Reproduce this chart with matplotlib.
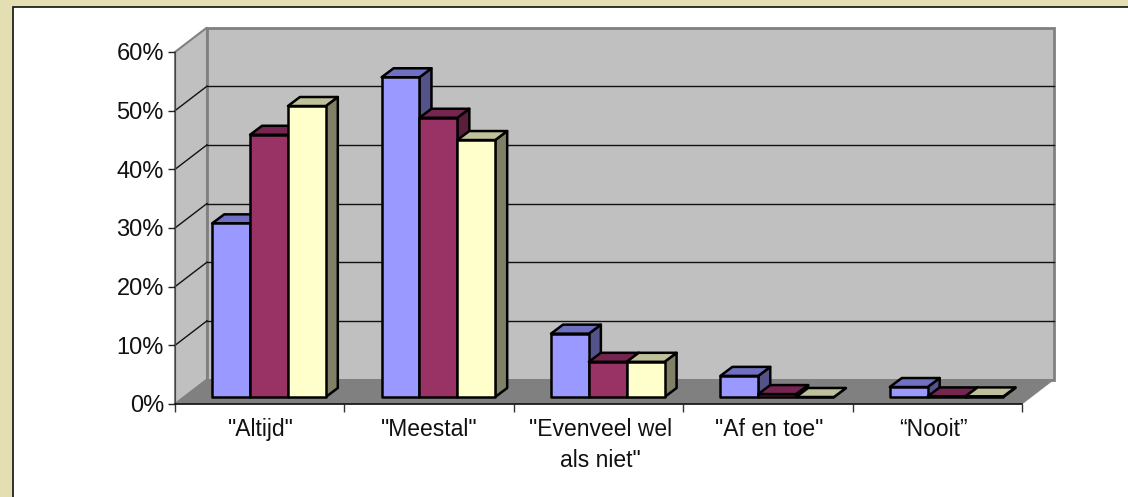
import matplotlib
matplotlib.use("Agg")
import matplotlib.pyplot as plt
from matplotlib.patches import Polygon, Rectangle
from matplotlib.transforms import Affine2D, IdentityTransform

categories = ['"Altijd"', '"Meestal"', '"Evenveel wel\nals niet"', '"Af en toe"', '\u201cNooit\u201d']
series_a = [29.6, 54.5, 10.8, 3.6, 1.7]
series_b = [44.7, 47.6, 6, 0.5, 0.1]
series_c = [49.6, 43.8, 6, 0, 0.1]
y_ticks = [0, 10, 20, 30, 40, 50, 60]

W, H = 1128, 497
plt.rcParams['font.family'] = ['Liberation Sans', 'DejaVu Sans']
fig = plt.figure(figsize=(W / 100, H / 100), dpi=100, facecolor='#E3DFB3')

# white panel with a black edge on the top and left, running off the right and bottom
fig.add_artist(Rectangle((12.5 / W, -0.1), 1.1, (H - 6.5) / H + 0.1, transform=fig.transFigure,
                         facecolor='white', edgecolor='#111111', linewidth=1.2, zorder=-5))

ax = fig.add_axes([175 / W, 1 - 404 / H, (1022 - 175) / W, (404 - 52) / H])
ax.set_xlim(0, 5)
ax.set_ylim(0, 60)
ax.patch.set_visible(False)
for s in ('top', 'right'):
    ax.spines[s].set_visible(False)
ax.spines['left'].set_color('#444444')
ax.spines['bottom'].set_color('#111111')
ax.spines['bottom'].set_linewidth(1.2)
ax.spines['left'].set_zorder(20)
ax.spines['bottom'].set_zorder(20)

PX = IdentityTransform()


def tr(dx, dy):
    return ax.transData + Affine2D().translate(dx, dy)


BACK = (32, 24.5)

# walls and floor
wall = '#C0C0C0'
wall_edge = '#808080'
ax.add_patch(Polygon([(0, 0), (5, 0), (5, 60), (0, 60)], closed=True, transform=tr(*BACK),
                     facecolor=wall, edgecolor=wall_edge, linewidth=2, clip_on=False, zorder=1))
p0 = ax.transData.transform((0, 0))
p1 = ax.transData.transform((0, 60))
ax.add_patch(Polygon([p0, p1, (p1[0] + BACK[0], p1[1] + BACK[1]), (p0[0] + BACK[0], p0[1] + BACK[1])],
                     closed=True, transform=PX, facecolor=wall, edgecolor=wall_edge,
                     linewidth=1.5, clip_on=False, zorder=1))
q1 = ax.transData.transform((5, 0))
ax.add_patch(Polygon([p0, q1, (q1[0] + BACK[0], q1[1] + BACK[1]), (p0[0] + BACK[0], p0[1] + BACK[1])],
                     closed=True, transform=PX, facecolor='#808080', edgecolor='#808080',
                     linewidth=0.5, clip_on=False, zorder=3))

# gridlines on back and side wall
for v in y_ticks[1:-1]:
    ax.plot([0, 5], [v, v], transform=tr(*BACK), color='#111111', lw=1, clip_on=False, zorder=2)
    a = ax.transData.transform((0, v))
    ax.plot([a[0], a[0] + BACK[0]], [a[1], a[1] + BACK[1]], transform=PX,
            color='#111111', lw=1, clip_on=False, zorder=2)

# bars
BW = 0.2235
FRONT = (9.3, 7)
BAR_D = (12, 9)
groups = [
    (series_a, '#9999FF', '#7070C2', '#53538A'),
    (series_b, '#993366', '#762450', '#5A1E3C'),
    (series_c, '#FFFFCC', '#C0C09A', '#808066'),
]
z = 5
for i in range(len(categories)):
    for j, (vals, front, top, sidec) in enumerate(groups):
        x0 = i + 0.5 + (j - 1.5) * BW
        x1 = x0 + BW
        v = vals[i]
        a, b = ax.transData.transform((x0, 0)), ax.transData.transform((x1, v))
        a = a + FRONT
        b = b + FRONT
        dx, dy = BAR_D
        style = dict(transform=PX, edgecolor='black', linewidth=1.8, clip_on=False,
                     joinstyle='round')
        ax.add_patch(Polygon([(b[0], a[1]), (b[0] + dx, a[1] + dy), (b[0] + dx, b[1] + dy), (b[0], b[1])],
                             closed=True, facecolor=sidec, zorder=z, **style))
        ax.add_patch(Polygon([(a[0], b[1]), (b[0], b[1]), (b[0] + dx, b[1] + dy), (a[0] + dx, b[1] + dy)],
                             closed=True, facecolor=top, zorder=z + 1, **style))
        ax.add_patch(Polygon([(a[0], a[1]), (b[0], a[1]), (b[0], b[1]), (a[0], b[1])],
                             closed=True, facecolor=front, zorder=z + 2, **style))
        z += 3

# axes
ax.set_yticks(y_ticks)
ax.set_yticklabels([f'{v}%' for v in y_ticks], fontsize=17, color='#111111')
ax.set_xticks(range(6))
ax.set_xticklabels([])
ax.set_xticks([i + 0.5 for i in range(5)], minor=True)
ax.set_xticklabels(categories, minor=True, fontsize=16.5, color='#111111', linespacing=1.45)
ax.tick_params(axis='x', which='minor', length=0, pad=10)
ax.tick_params(axis='x', which='major', length=6, width=1, color='#333333')
ax.tick_params(axis='y', length=5, width=1, color='#222222', pad=3)

# small nudges of the category labels to where the reference has them
nudges = [1, 0, 2, 1, -4]
for lab, n in zip(ax.get_xticklabels(minor=True), nudges):
    lab.set_transform(lab.get_transform() + Affine2D().translate(n, 0))

fig.savefig('out.png', dpi=100, facecolor=fig.get_facecolor())
